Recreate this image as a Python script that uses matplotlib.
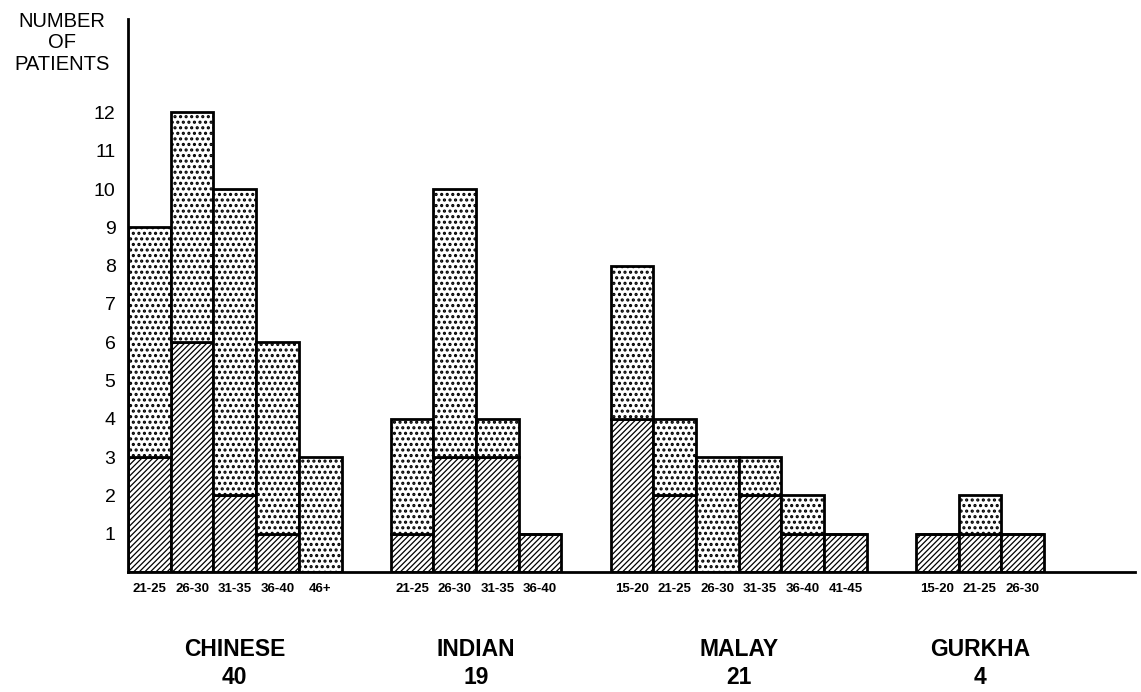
import numpy as np
import matplotlib
matplotlib.use("Agg")
import matplotlib.pyplot as plt
import matplotlib.transforms as mtransforms

plt.rcParams["font.family"] = ["Liberation Sans", "DejaVu Sans"]

# age bands and counts per ethnic group (hatched = lower part, dotted = upper part)
groups = ["CHINESE", "INDIAN", "MALAY", "GURKHA"]
chinese_ages = ["21-25", "26-30", "31-35", "36-40", "46+"]
chinese_hatched = [3, 6, 2, 1, 0]
chinese_dotted = [6, 6, 8, 5, 3]
indian_ages = ["21-25", "26-30", "31-35", "36-40"]
indian_hatched = [1, 3, 3, 1]
indian_dotted = [3, 7, 1, 0]
malay_ages = ["15-20", "21-25", "26-30", "31-35", "36-40", "41-45"]
malay_hatched = [4, 2, 0, 2, 1, 1]
malay_dotted = [4, 2, 3, 1, 1, 0]
gurkha_ages = ["15-20", "21-25", "26-30"]
gurkha_hatched = [1, 1, 1]
gurkha_dotted = [0, 1, 0]
y_ticks = list(range(1, 13))

ages = [chinese_ages, indian_ages, malay_ages, gurkha_ages]
hatched = [chinese_hatched, indian_hatched, malay_hatched, gurkha_hatched]
dotted = [chinese_dotted, indian_dotted, malay_dotted, gurkha_dotted]

GAP = 1.15          # gap between groups, in bar widths
W, H, DPI = 1141, 692, 100


def set_hlw(patches, lw):
    for p in patches:
        if hasattr(p, "set_hatch_linewidth"):
            p.set_hatch_linewidth(lw)


fig = plt.figure(figsize=(W / DPI, H / DPI), dpi=DPI)
ax = fig.add_axes([128 / W, 120 / H, (1135 - 128) / W, (572 - 19) / H])

x0 = 0.0
centers = []
for g, a, hb, db in zip(groups, ages, hatched, dotted):
    pos = x0 + np.arange(len(a)) + 0.5
    b1 = ax.bar(pos, hb, width=1.0, color="white", edgecolor="black",
                linewidth=2.0, hatch="//////", zorder=2)
    set_hlw(b1, 0.9)
    b2 = ax.bar(pos, db, bottom=hb, width=1.0, color="white",
                edgecolor="black", linewidth=2.0, hatch="...", zorder=2)
    set_hlw(b2, 1.5)
    for p, lab in zip(pos, a):
        ax.annotate(lab, xy=(p, 0), xytext=(0, -12.5), textcoords="offset points",
                    ha="center", va="center", fontsize=9.5,
                    fontweight="bold", annotation_clip=False)
    centers.append((x0 + len(a) / 2, sum(hb) + sum(db)))
    x0 += len(a) + GAP

ax.set_xlim(0, (1135 - 128) / 42.7)
ax.set_ylim(0, (572 - 19) / 38.3)
ax.set_yticks(y_ticks)
ax.set_yticklabels([str(v) for v in y_ticks], fontsize=14)
ax.tick_params(axis="y", length=0, pad=9)
ax.set_xticks([])
for s in ("top", "right"):
    ax.spines[s].set_visible(False)
ax.spines["left"].set_linewidth(2.0)
ax.spines["bottom"].set_linewidth(2.0)

fig.text(62 / W, 1 - 12 / H, "NUMBER\nOF\nPATIENTS", ha="center", va="top",
         fontsize=14.5, linespacing=1.15)

trans = mtransforms.blended_transform_factory(ax.transData, fig.transFigure)
for g, (cx, tot) in zip(groups, centers):
    ax.text(cx, 1 - 650 / H, g, transform=trans, ha="center", va="center",
            fontsize=16.5, fontweight="bold")
    ax.text(cx, 1 - 677 / H, str(tot), transform=trans, ha="center",
            va="center", fontsize=16.5, fontweight="bold")

fig.savefig("out.png", dpi=DPI)
